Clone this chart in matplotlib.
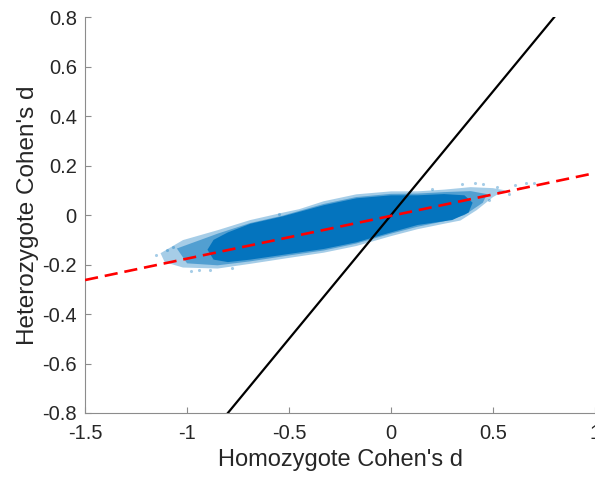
import matplotlib.pyplot as plt
from matplotlib.patches import Polygon
import numpy as np

plt.rcParams['font.family'] = ['Liberation Sans', 'DejaVu Sans']

# outline of the speckled outer cloud (homozygote d, heterozygote d)
outer_x = [-1.13, -1.02, -0.85, -0.69, -0.53, -0.45, -0.33, -0.17, 0.0, 0.13, 0.26, 0.39, 0.50, 0.56,
           0.50, 0.42, 0.34, 0.26, 0.13, 0.0, -0.17, -0.33, -0.50, -0.69, -0.85, -1.02, -1.11]
outer_y = [-0.154, -0.101, -0.061, -0.020, 0.010, 0.024, 0.056, 0.084, 0.096, 0.096, 0.103, 0.113, 0.109, 0.100,
           0.073, 0.020, -0.022, -0.035, -0.057, -0.085, -0.125, -0.152, -0.173, -0.197, -0.216, -0.212, -0.190]

# outline of the half-dense band
mid_x = [-1.05, -0.85, -0.69, -0.53, -0.33, -0.17, 0.0, 0.13, 0.26, 0.39, 0.47,
         0.45, 0.36, 0.26, 0.13, 0.0, -0.17, -0.33, -0.50, -0.69, -0.85, -1.0]
mid_y = [-0.135, -0.075, -0.032, -0.002, 0.045, 0.073, 0.086, 0.087, 0.093, 0.097, 0.085,
         0.050, 0.000, -0.025, -0.047, -0.075, -0.115, -0.143, -0.163, -0.187, -0.203, -0.195]

# outline of the dense core
core_x = [-0.80, -0.69, -0.53, -0.33, -0.17, 0.0, 0.13, 0.26, 0.36, 0.40,
          0.38, 0.30, 0.13, 0.0, -0.17, -0.33, -0.50, -0.69, -0.80, -0.87, -0.90, -0.87]
core_y = [-0.070, -0.035, -0.005, 0.040, 0.068, 0.080, 0.080, 0.085, 0.080, 0.050,
          0.010, -0.020, -0.040, -0.070, -0.110, -0.137, -0.157, -0.180, -0.190, -0.180, -0.140, -0.100]

# sparse points outside the cloud
stray_x = [0.53, 0.61, 0.66, 0.63, 0.70, 0.58, 0.45, 0.48, 0.52, 0.41, 0.35,
           -1.10, -1.07, -0.94, -0.89, -1.15, -0.98, -0.78, -0.55, 0.20]
stray_y = [0.093, 0.121, 0.129, 0.109, 0.129, 0.085, 0.125, 0.060, 0.115, 0.128, 0.125,
           -0.141, -0.129, -0.222, -0.222, -0.160, -0.226, -0.215, 0.005, 0.107]

fit_slope = 0.173
fit_intercept = -0.003

blue = '#0072BD'

fig = plt.figure(figsize=(5.95, 4.78), dpi=100)
ax = fig.add_axes([0.143, 0.136, 0.857, 0.828])

ax.add_patch(Polygon(np.column_stack([outer_x, outer_y]), closed=True,
                     facecolor=blue, edgecolor='none', alpha=0.35, zorder=1))
ax.add_patch(Polygon(np.column_stack([mid_x, mid_y]), closed=True,
                     facecolor=blue, edgecolor='none', alpha=0.5, zorder=1))
ax.add_patch(Polygon(np.column_stack([core_x, core_y]), closed=True,
                     facecolor=blue, edgecolor='none', alpha=0.95, zorder=1))
ax.scatter(stray_x, stray_y, s=5, color=blue, alpha=0.35, linewidths=0, zorder=1)

lim = np.array([-0.8, 0.8])
ax.plot(lim, lim, color='black', lw=1.6, zorder=3)

xs = np.array([-1.5, 1.0])
ax.plot(xs, fit_slope * xs + fit_intercept, color='#ff0000', lw=1.9,
        dashes=(5, 2.6), zorder=4)

ax.set_xlim(-1.5, 1.0)
ax.set_ylim(-0.8, 0.8)
ax.set_xticks([-1.5, -1, -0.5, 0, 0.5, 1])
ax.set_xticklabels(['-1.5', '-1', '-0.5', '0', '0.5', '1'])
ax.set_yticks(np.arange(-0.8, 0.81, 0.2))
ax.set_yticklabels(['-0.8', '-0.6', '-0.4', '-0.2', '0', '0.2', '0.4', '0.6', '0.8'])

for s in ['top', 'right']:
    ax.spines[s].set_visible(False)
for s in ['left', 'bottom']:
    ax.spines[s].set_color('#8c8c8c')
    ax.spines[s].set_linewidth(0.8)
ax.tick_params(direction='in', length=4, width=0.8, color='#8c8c8c',
               labelcolor='#262626', labelsize=14.5)
ax.tick_params(axis='x', pad=8)
ax.tick_params(axis='y', pad=6)

ax.set_xlabel("Homozygote Cohen's d", fontsize=17, color='#262626', labelpad=4.5)
ax.set_ylabel("Heterozygote Cohen's d", fontsize=17.5, color='#262626', labelpad=2.5)

fig.savefig('out.png', dpi=100)
